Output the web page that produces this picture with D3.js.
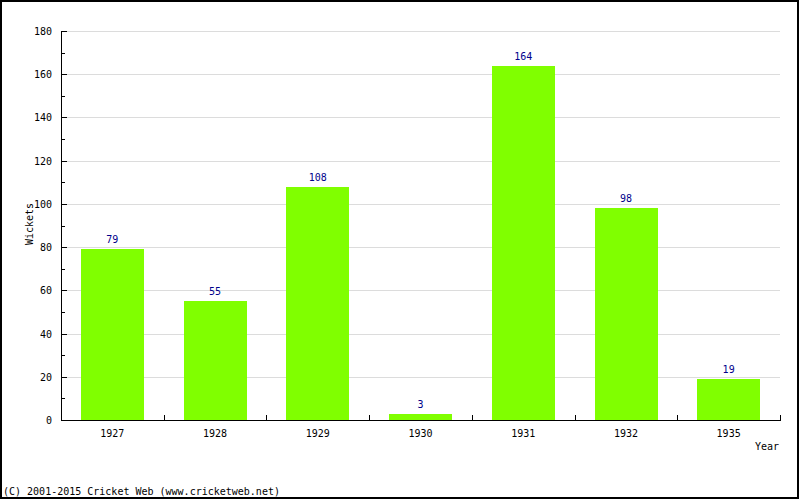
<!DOCTYPE html>
<html><head><meta charset="utf-8">
<script src="https://cdn.jsdelivr.net/npm/d3@7"></script>
<style>body{margin:0;background:#fff}svg{display:block}text{font-family:"DejaVu Sans Mono",monospace;font-size:10px}</style>
</head><body><svg id="c" width="800" height="500"></svg>
<script>
const years = ["1927","1928","1929","1930","1931","1932","1935"];
const wickets = [79,55,108,3,164,98,19];
const yTicks = [0,20,40,60,80,100,120,140,160,180];
const minorTicks = [10,30,50,70,90,110,130,150,170];

const svg = d3.select("#c");
svg.append("rect").attr("x",1).attr("y",1).attr("width",797).attr("height",497)
  .attr("fill","#fff").attr("stroke","#000").attr("stroke-width",2);

const L=61,R=780,T=31,B=420;
const x = d3.scaleBand().domain(years).range([L,R]).paddingInner(0.39).paddingOuter(0.195);
const xb = d3.scaleBand().domain(years).range([L,R]);
const y = d3.scaleLinear().domain([0,180]).range([B,T]);

// gridlines
svg.append("g").selectAll("line").data(yTicks.slice(1)).join("line")
  .attr("x1",L+5).attr("x2",R).attr("y1",d=>Math.round(y(d))+0.5).attr("y2",d=>Math.round(y(d))+0.5)
  .attr("stroke","#dcdcdc");

// bars
svg.append("g").selectAll("rect").data(wickets).join("rect")
  .attr("x",(d,i)=>Math.round(x(years[i]))).attr("width",Math.round(x.bandwidth()))
  .attr("y",d=>Math.round(y(d))).attr("height",d=>B-Math.round(y(d)))
  .attr("fill","#80ff00");

// value labels
svg.append("g").selectAll("text").data(wickets).join("text")
  .attr("x",(d,i)=>x(years[i])+x.bandwidth()/2).attr("y",d=>y(d)-6)
  .attr("text-anchor","middle").attr("fill","#00008b").text(d=>d);

// y axis
const ax = svg.append("g").attr("stroke","#000");
ax.append("line").attr("x1",L+0.5).attr("x2",L+0.5).attr("y1",T).attr("y2",B+0.5);
ax.selectAll(".mj").data(yTicks).join("line").attr("class","mj")
  .attr("x1",L).attr("x2",L+6).attr("y1",d=>Math.round(y(d))+0.5).attr("y2",d=>Math.round(y(d))+0.5);
ax.selectAll(".mn").data(minorTicks).join("line").attr("class","mn")
  .attr("x1",L).attr("x2",L+4).attr("y1",d=>Math.round(y(d))+0.5).attr("y2",d=>Math.round(y(d))+0.5);
svg.append("g").selectAll("text").data(yTicks).join("text")
  .attr("x",52).attr("y",d=>y(d)+4).attr("text-anchor","end").text(d=>d);

// x axis
ax.append("line").attr("x1",L).attr("x2",R+1).attr("y1",B+0.5).attr("y2",B+0.5);
const bounds = years.map(d=>xb(d)+xb.bandwidth());
ax.selectAll(".xt").data(bounds).join("line").attr("class","xt")
  .attr("x1",d=>Math.round(d)+0.5).attr("x2",d=>Math.round(d)+0.5).attr("y1",B).attr("y2",B-5);
svg.append("g").selectAll("text").data(years).join("text")
  .attr("x",d=>xb(d)+xb.bandwidth()/2).attr("y",437).attr("text-anchor","middle").text(d=>d);

svg.append("text").attr("transform","translate(33,224) rotate(-90)").attr("text-anchor","middle").text("Wickets");
svg.append("text").attr("x",779).attr("y",450).attr("text-anchor","end").text("Year");
svg.append("text").attr("x",3).attr("y",495).text("(C) 2001-2015 Cricket Web (www.cricketweb.net)");
</script></body></html>
